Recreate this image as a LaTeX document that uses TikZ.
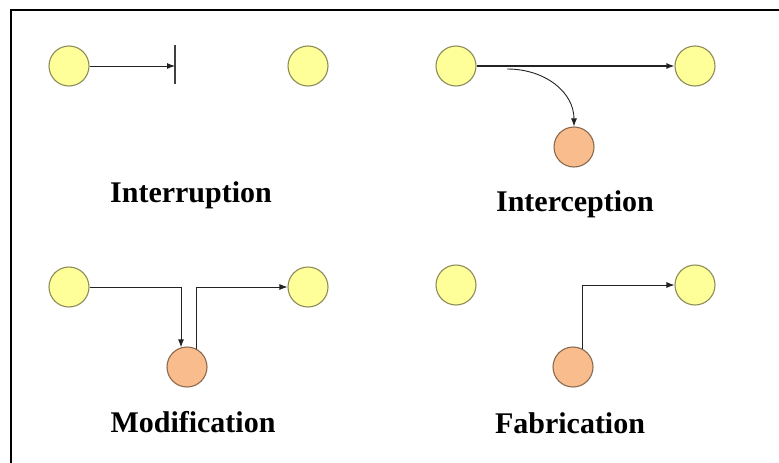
\documentclass[tikz,border=0pt]{standalone}
\usepackage{fontspec}
\setmainfont{Liberation Serif}
\usetikzlibrary{arrows.meta}
\definecolor{hostfill}{HTML}{FFFF99}
\definecolor{hostline}{HTML}{8C8C5A}
\definecolor{attfill}{HTML}{F9BC8C}
\definecolor{attline}{HTML}{8A6A4E}
\definecolor{flow}{HTML}{222222}
\tikzset{
  host/.style={circle, draw=hostline, fill=hostfill, line width=1.1pt, minimum size=40pt, inner sep=0pt},
  attacker/.style={circle, draw=attline, fill=attfill, line width=1.1pt, minimum size=40pt, inner sep=0pt},
  flowline/.style={draw=flow, line width=0.9pt, -{Latex[length=8pt,width=6pt]}},
  caption/.style={font=\fontsize{30}{35}\selectfont\bfseries, inner sep=0pt}
}
\begin{document}
\begin{tikzpicture}[x=1pt, y=-1pt]
\useasboundingbox (0,0) rectangle (779,463);
% outer frame (open to the right and bottom)
\draw[line width=2pt] (11,463) -- (11,10) -- (779,10);

% Interruption
\node[host] (ia) at (69,66) {};
\node[host] (ib) at (308,66) {};
\coordinate (bartop) at (175,45);
\coordinate (barbot) at (175,84);
\coordinate (barmid) at (175,66);
\draw[line width=2pt, draw=black!75] (bartop) -- (barbot);
\draw[flowline] (ia.east) -- (barmid);
\node[caption] (lint) at (191,195) {Interruption};

% Interception
\node[host] (pa) at (456,66) {};
\node[host] (pb) at (695,66) {};
\node[attacker] (po) at (574,147) {};
\draw[flowline, line width=1.3pt] (pa.east) -- (pb.west);
\coordinate (tap) at (507,69);
\draw[flowline] (tap) .. controls (545,69) and (574,92) .. (po.north);
\node[caption] (lcep) at (575,204) {Interception};

% Modification
\node[host] (ma) at (69,287) {};
\node[host] (mb) at (308,287) {};
\node[attacker] (mo) at (187,367) {};
\draw[flowline] (ma.east) -| (mo.107);
\draw[flowline] (mo.63) |- (mb.west);
\node[caption] (lmod) at (193,422) {Modification};

% Fabrication
\node[host] (fa) at (456,285) {};
\node[host] (fb) at (695,285) {};
\node[attacker] (fo) at (573,367) {};
\draw[flowline] (fo.63) |- (fb.west);
\node[caption] (lfab) at (570,423) {Fabrication};
\end{tikzpicture}
\end{document}
